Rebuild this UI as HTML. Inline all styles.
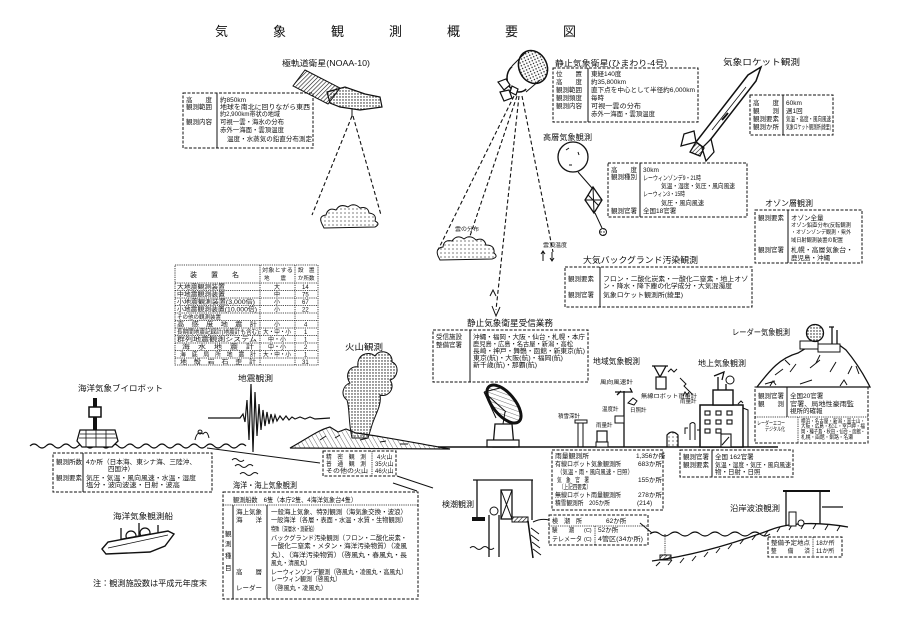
<!DOCTYPE html>
<html><head><meta charset="utf-8">
<style>
html,body{margin:0;padding:0;background:#fff;}
svg{display:block;}
text{font-family:"Liberation Sans","Noto Sans CJK JP",sans-serif;fill:#111;}
.db{fill:none;stroke:#111;stroke-width:1;stroke-dasharray:3 1.5;}
.dt{fill:none;stroke:#111;stroke-width:0.8;stroke-dasharray:1.2 1;}
.ln{fill:none;stroke:#111;stroke-width:1;}
.dl{fill:none;stroke:#111;stroke-width:1.1;stroke-dasharray:4 2.5;}
.s{font-size:6.5px;}
.xs{font-size:5.5px;}
.m{font-size:8px;}
</style></head>
<body>
<svg width="911" height="625" viewBox="0 0 911 625" xmlns="http://www.w3.org/2000/svg">
<defs>
<pattern id="dots" width="3" height="3" patternUnits="userSpaceOnUse"><circle cx="1" cy="1" r="0.7" fill="#111"/></pattern>
<pattern id="dots2" width="4" height="4" patternUnits="userSpaceOnUse"><circle cx="1" cy="1" r="0.6" fill="#222"/></pattern>
<pattern id="hatch" width="3" height="3" patternUnits="userSpaceOnUse" patternTransform="rotate(45)"><line x1="0" y1="0" x2="0" y2="3" stroke="#111" stroke-width="1.2"/></pattern>
<pattern id="hatch2" width="4" height="4" patternUnits="userSpaceOnUse" patternTransform="rotate(-30)"><line x1="0" y1="0" x2="0" y2="4" stroke="#333" stroke-width="0.7"/></pattern>
</defs>
<rect width="911" height="625" fill="#fff"/>

<!-- Title -->
<text x="215" y="36" style="font-size:13px;letter-spacing:45px">気象観測概要図</text>

<!-- ===== NOAA ===== -->
<text x="282" y="66" class="m" textLength="88" lengthAdjust="spacingAndGlyphs">極軌道衛星(NOAA-10)</text>
<polygon points="305,70 340,88 328,104 293,86" fill="url(#hatch)" stroke="#111" stroke-width="1"/>
<path d="M327 92 L345 87 L365 94 L380 97 L382 107 L360 110 L340 107 L330 103 Z" fill="url(#dots)" stroke="#111" stroke-width="1.2"/>
<line x1="352" y1="108" x2="352" y2="116" class="ln"/>
<rect x="183" y="93" width="130" height="55" class="db"/>
<line x1="217" y1="93" x2="217" y2="148" class="ln"/>
<g class="s">
<text x="186" y="102">高　　度</text><text x="186" y="109">観測範囲</text><text x="186" y="124">観測内容</text>
<text x="220" y="102">約850km</text>
<text x="220" y="109" textLength="90" lengthAdjust="spacingAndGlyphs">地球を南北に回りながら東西</text>
<text x="220" y="116" textLength="60" lengthAdjust="spacingAndGlyphs">約2,900km帯状の地域</text>
<text x="220" y="124" textLength="64" lengthAdjust="spacingAndGlyphs">可視一雲・海氷の分布</text>
<text x="220" y="132" textLength="64" lengthAdjust="spacingAndGlyphs">赤外一海面・雲頂温度</text>
<text x="227" y="141" textLength="85" lengthAdjust="spacingAndGlyphs">温度・水蒸気の鉛直分布測定</text>
</g>
<line x1="352" y1="116" x2="312" y2="215" class="dl"/>
<line x1="353" y1="116" x2="381" y2="215" class="dl"/>
<path d="M322 224 q-4 -8 4 -9 q2 -8 10 -5 q4 -7 12 -3 q6 -5 12 1 q8 -2 9 5 q8 1 6 8 q6 3 0 6 L324 228 Z" fill="url(#dots2)" stroke="#111" stroke-width="1"/>

<!-- ===== Himawari ===== -->
<text x="555" y="66" class="m" textLength="112" lengthAdjust="spacingAndGlyphs">静止気象衛星(ひまわり-4号)</text>
<ellipse cx="519" cy="78" rx="12" ry="14" fill="#fff" stroke="#111" stroke-width="1.5"/>
<polygon points="512,66 528,52 546,78 528,92" fill="#fff" stroke="none"/>
<line x1="512" y1="66" x2="526" y2="52" class="ln"/><line x1="526" y1="92" x2="540" y2="80" class="ln"/>
<ellipse cx="533" cy="67" rx="14" ry="17" transform="rotate(-25 533 67)" fill="url(#dots)" stroke="#111" stroke-width="1.5"/>
<path d="M498 82 l8 -3 l4 6 l-6 5 Z M500 92 l9 -2 l3 8 l-8 3 Z M512 86 l6 3 l-2 6 l-6 -3 Z" fill="#fff" stroke="#111" stroke-width="1.2"/>
<rect x="553" y="68" width="145" height="54" class="db"/>
<line x1="588" y1="68" x2="588" y2="122" class="ln"/>
<g class="s">
<text x="556" y="76">位　　置</text><text x="556" y="84">高　　度</text><text x="556" y="92">観測範囲</text><text x="556" y="100">観測頻度</text><text x="556" y="108">観測内容</text>
<text x="591" y="76">東経140度</text><text x="591" y="84">約35,800km</text>
<text x="591" y="92" textLength="104" lengthAdjust="spacingAndGlyphs">直下点を中心として半径約6,000km</text>
<text x="591" y="100">毎時</text>
<text x="591" y="108" textLength="50" lengthAdjust="spacingAndGlyphs">可視一雲の分布</text>
<text x="591" y="116" textLength="64" lengthAdjust="spacingAndGlyphs">赤外一海面・雲頂温度</text>
</g>
<line x1="514" y1="96" x2="438" y2="250" class="dl"/>
<line x1="517" y1="96" x2="470" y2="236" class="dl"/>
<line x1="519" y1="96" x2="496" y2="310" class="dl"/>
<line x1="522" y1="96" x2="553" y2="252" class="dl"/>
<path d="M492 306 l4 10 l4 -9" class="ln"/>
<path d="M490 296 l3 -6 l3 6" class="ln"/>
<path d="M438 256 q-3 -8 5 -9 q1 -8 9 -6 q5 -7 12 -2 q6 -5 12 1 q8 -3 10 5 q9 0 8 8 q5 4 -2 6 L440 260 Z" fill="url(#dots2)" stroke="#111" stroke-width="1"/>
<text x="455" y="231" class="xs" textLength="24" lengthAdjust="spacingAndGlyphs">雲の分布</text>
<text x="543" y="247" class="xs" textLength="24" lengthAdjust="spacingAndGlyphs">雲頂温度</text>
<path d="M543 252 v9 M541 254 l2 -3 l2 3 M552 252 v9 M550 258 l2 3 l2 -3" class="ln"/>

<!-- ===== Rocket ===== -->
<text x="723" y="65" style="font-size:8.5px" textLength="77" lengthAdjust="spacingAndGlyphs">気象ロケット観測</text>
<polygon points="704,148 756,81 761,67 748,75 696,142" fill="#fff" stroke="#111" stroke-width="1.5"/>
<line x1="712" y1="130" x2="746" y2="87" stroke="#111" stroke-width="0.8"/>
<line x1="722" y1="120" x2="728" y2="113" stroke="#111" stroke-width="2"/>
<polygon points="711,139 714,152 706,161 702,148" fill="#fff" stroke="#111" stroke-width="1.3"/>
<polygon points="694,131 684,134 681,146 696,142" fill="#fff" stroke="#111" stroke-width="1.3"/>
<polygon points="696,142 704,148 700,156 690,152" fill="url(#hatch)" stroke="#111" stroke-width="1.3"/>
<rect x="750" y="95" width="83" height="40" class="db"/>
<line x1="783" y1="95" x2="783" y2="135" class="ln"/>
<g class="s">
<text x="753" y="105">高　　度</text><text x="753" y="113">観　　測</text><text x="753" y="121">観測要素</text><text x="753" y="129">観測か所</text>
<text x="786" y="105">60km</text><text x="786" y="113">週1回</text>
<text x="786" y="121" textLength="45" lengthAdjust="spacingAndGlyphs">気温・高度・風向風速</text>
<text x="786" y="129" textLength="45" lengthAdjust="spacingAndGlyphs">気象ロケット観測所(綾里)</text>
</g>

<!-- ===== Upper air ===== -->
<text x="543" y="140" class="m" textLength="49" lengthAdjust="spacingAndGlyphs">高層気象観測</text>
<circle cx="573" cy="157" r="15" fill="#fff" stroke="#111" stroke-width="1.3"/>
<path d="M566 150 l3 -2 M578 152 l1 3 M569 165 l3 0" class="ln"/>
<line x1="578" y1="172" x2="592" y2="188" class="ln"/>
<polygon points="593,187 602,200 594,213 585,200" fill="#fff" stroke="#111" stroke-width="1.3"/>
<path d="M585 200 L602 200 M593 187 L594 213 M588 195 L599 206" class="ln"/>
<line x1="595" y1="213" x2="602" y2="228" class="ln"/>
<circle cx="603" cy="232" r="3.5" fill="url(#dots)" stroke="#111"/>
<rect x="608" y="163" width="139" height="54" class="db"/>
<line x1="640" y1="163" x2="640" y2="217" class="ln"/>
<g class="s">
<text x="611" y="172">高　　度</text><text x="611" y="179">観測種別</text><text x="611" y="213">観測官署</text>
<text x="643" y="172">30km</text>
<text x="643" y="180" textLength="58" lengthAdjust="spacingAndGlyphs">レーウィンゾンデ9・21時</text>
<text x="661" y="188" textLength="74" lengthAdjust="spacingAndGlyphs">気温・湿度・気圧・風向風速</text>
<text x="643" y="196" textLength="42" lengthAdjust="spacingAndGlyphs">レーウィン3・15時</text>
<text x="661" y="205" textLength="43" lengthAdjust="spacingAndGlyphs">気圧・風向風速</text>
<text x="643" y="213">全国18官署</text>
</g>

<!-- ===== Ozone ===== -->
<text x="765" y="206" class="m" textLength="48" lengthAdjust="spacingAndGlyphs">オゾン層観測</text>
<rect x="755" y="210" width="107" height="53" class="db"/>
<line x1="788" y1="210" x2="788" y2="263" class="ln"/>
<g class="s">
<text x="758" y="220">観測要素</text><text x="758" y="252">観測官署</text>
<text x="791" y="220">オゾン全量</text>
<text x="791" y="227" class="xs" textLength="60" lengthAdjust="spacingAndGlyphs">オゾン鉛直分布(反転観測</text>
<text x="791" y="234" class="xs" textLength="60" lengthAdjust="spacingAndGlyphs">・オゾンゾンデ観測・紫外</text>
<text x="791" y="242" class="xs" textLength="52" lengthAdjust="spacingAndGlyphs">域日射観測装置の配置</text>
<text x="791" y="252" textLength="62" lengthAdjust="spacingAndGlyphs">札幌・高層気象台・</text>
<text x="791" y="260">鹿児島・沖縄</text>
</g>

<!-- ===== Background pollution ===== -->
<text x="583" y="263" style="font-size:8.5px" textLength="115" lengthAdjust="spacingAndGlyphs">大気バックグランド汚染観測</text>
<rect x="565" y="267" width="187" height="40" class="db"/>
<line x1="600" y1="267" x2="600" y2="307" class="ln"/>
<g class="s">
<text x="568" y="281">観測要素</text><text x="568" y="297">観測官署</text>
<text x="603" y="281" textLength="145" lengthAdjust="spacingAndGlyphs">フロン・二酸化炭素・一酸化二窒素・地上オゾ</text>
<text x="603" y="288" textLength="129" lengthAdjust="spacingAndGlyphs">ン・降水・降下塵の化学成分・大気混濁度</text>
<text x="603" y="297" textLength="80" lengthAdjust="spacingAndGlyphs">気象ロケット観測所(綾里)</text>
</g>

<!-- ===== Seismic equipment table ===== -->
<rect x="175" y="265" width="143" height="100" class="dt"/>
<line x1="260" y1="265" x2="260" y2="365" class="dt"/>
<line x1="295" y1="265" x2="295" y2="365" class="dt"/>
<g class="dt">
<line x1="175" y1="283" x2="318" y2="283"/><line x1="175" y1="290.5" x2="318" y2="290.5"/><line x1="175" y1="298" x2="318" y2="298"/><line x1="175" y1="305.5" x2="318" y2="305.5"/><line x1="175" y1="313" x2="318" y2="313"/><line x1="175" y1="320.5" x2="318" y2="320.5"/><line x1="175" y1="328" x2="318" y2="328"/><line x1="175" y1="335.5" x2="318" y2="335.5"/><line x1="175" y1="343" x2="318" y2="343"/><line x1="175" y1="350.5" x2="318" y2="350.5"/><line x1="175" y1="358" x2="318" y2="358"/>
</g>
<g style="font-size:6px">
<text x="190" y="277" style="font-size:7px">装　　置　　名</text>
<text x="262" y="272" class="xs" textLength="31" lengthAdjust="spacingAndGlyphs">対象とする</text><text x="264" y="280" class="xs">地　　震</text>
<text x="298" y="272" class="xs">設　置</text><text x="298" y="280" class="xs">か所数</text>
<text x="177" y="289" textLength="48" lengthAdjust="spacingAndGlyphs">大地震観測装置</text><text x="274" y="289">大</text><text x="302" y="289">14</text>
<text x="177" y="296.5" textLength="48" lengthAdjust="spacingAndGlyphs">中地震観測装置</text><text x="274" y="296.5">中</text><text x="302" y="296.5">75</text>
<text x="177" y="304" textLength="78" lengthAdjust="spacingAndGlyphs">小地震観測装置(3,000倍)</text><text x="274" y="304">小</text><text x="302" y="304">67</text>
<text x="177" y="311.5" textLength="80" lengthAdjust="spacingAndGlyphs">小地震観測装置(10,000倍)</text><text x="274" y="311.5">小</text><text x="302" y="311.5">22</text>
<text x="177" y="319" class="xs" textLength="44" lengthAdjust="spacingAndGlyphs">その他の観測装置</text>
<text x="177" y="326.5" textLength="80" lengthAdjust="spacingAndGlyphs">高　感　度　地　震　計</text><text x="274" y="326.5">小</text><text x="304" y="326.5">4</text>
<text x="177" y="334" textLength="82" lengthAdjust="spacingAndGlyphs">長期間地震記録計(地震計も含む)</text><text x="263" y="334" textLength="28" lengthAdjust="spacingAndGlyphs">大・中・小</text><text x="304" y="334">1</text>
<text x="177" y="341.5" textLength="80" lengthAdjust="spacingAndGlyphs">群列地震観測システム</text><text x="268" y="341.5">中・小</text><text x="304" y="341.5">1</text>
<text x="182" y="349" textLength="72" lengthAdjust="spacingAndGlyphs">海　水　地　震　計</text><text x="268" y="349">中・小</text><text x="304" y="349">2</text>
<text x="180" y="356.5" textLength="76" lengthAdjust="spacingAndGlyphs">海　底　局　所　地　震　計</text><text x="263" y="356.5" textLength="28" lengthAdjust="spacingAndGlyphs">大・中・小</text><text x="304" y="356.5">1</text>
<text x="180" y="364" textLength="76" lengthAdjust="spacingAndGlyphs">地　殻　岩　石　歪　計</text><text x="302" y="364">31</text>
</g>

<!-- ===== Seismic & volcano ===== -->
<text x="238" y="381" class="m" textLength="35" lengthAdjust="spacingAndGlyphs">地震観測</text>
<path d="M208 418 L240 418 L243 414 L245 422 L247 400 L249 440 L251 384 L253 452 L255 392 L257 436 L259 404 L261 430 L263 410 L265 426 L267 412 L269 424 L271 414 L273 422 L275 415 L277 421 L280 416 L283 420 L286 416 L289 420 L292 417 L295 419 L300 417 L305 419 L310 417 L315 419 L330 418" fill="none" stroke="#111" stroke-width="1.2"/>
<text x="345" y="350" style="font-size:8.5px" textLength="38" lengthAdjust="spacingAndGlyphs">火山観測</text>
<path d="M352 438 C348 420 350 410 347 400 C340 395 343 385 350 383 C344 375 350 365 358 367 C356 355 368 350 375 356 C380 348 393 352 392 362 C400 365 398 378 390 380 C396 388 388 398 380 395 C382 405 375 415 372 425 L368 438 Z" fill="url(#dots)" stroke="#111" stroke-width="1"/>
<path d="M290 448 C305 440 318 430 330 427 L338 432 L346 429 L356 433 C380 436 410 442 450 449 Z" fill="url(#hatch2)" stroke="#111" stroke-width="1.2"/>
<path d="M320 440 l6 -4 M335 438 l5 -3 M360 440 l8 -2 M380 442 l6 -1 M400 444 l8 0" class="ln"/>
<rect x="323" y="451" width="73" height="25" class="db"/>
<line x1="372" y1="451" x2="372" y2="476" class="dt"/>
<g style="font-size:6px">
<text x="326" y="459" textLength="40" lengthAdjust="spacingAndGlyphs">精　密　観　測</text><text x="326" y="466" textLength="40" lengthAdjust="spacingAndGlyphs">普　通　観　測</text><text x="326" y="473" textLength="42" lengthAdjust="spacingAndGlyphs">その他の火山</text>
<text x="377" y="459">4火山</text><text x="375" y="466">35火山</text><text x="375" y="473">46火山</text>
</g>

<!-- ===== Left sea ===== -->
<path d="M30 446 q4 -4 8 0 t8 0 t8 0 t8 0 t8 0 t8 0 t8 0 t8 0 t8 0 t8 0 t8 0 t8 0 t8 0 t8 0 t8 0 t8 0 t8 0 t8 0 t8 0 t8 0 t8 0 t8 0 t8 0 t8 0 t8 0 t8 0 t8 0" fill="none" stroke="#111" stroke-width="1.2"/>
<path d="M207 448 L320 463 M397 476 L433 488 M393 483 L417 491" class="ln"/>
<path d="M235 466 q3 -3 6 0 t6 0 t6 0 M240 474 q3 -3 6 0 t6 0 t6 0 M232 460 q3 -3 6 0 t6 0" class="ln"/>
<path d="M195 440 q2 -10 8 -6 q4 -5 6 4 M200 430 a2 2 0 1 0 0.1 0" class="ln"/>
<!-- buoy -->
<text x="78" y="391" class="m" textLength="85" lengthAdjust="spacingAndGlyphs">海洋気象ブイロボット</text>
<rect x="93" y="398" width="4" height="32" fill="#111"/>
<rect x="89" y="407" width="12" height="10" fill="#fff" stroke="#111" stroke-width="1.5"/>
<path d="M77 441 L80 430 L115 430 L118 441 L112 447 L82 447 Z" fill="#fff" stroke="#111" stroke-width="1.3"/>
<path d="M80 434 H115 M79 438 H117 M86 430 V447 M96 430 V447 M106 430 V447" stroke="#111" stroke-width="0.8"/>
<rect x="53" y="453" width="159" height="39" class="db"/>
<line x1="83" y1="453" x2="83" y2="492" class="ln"/>
<g class="s">
<text x="56" y="464">観測所数</text><text x="56" y="480">観測要素</text>
<text x="86" y="464" textLength="110" lengthAdjust="spacingAndGlyphs">4か所（日本海、東シナ海、三陸沖、</text>
<text x="108" y="471">四国沖）</text>
<text x="86" y="480" textLength="110" lengthAdjust="spacingAndGlyphs">気圧・気温・風向風速・水温・湿度</text>
<text x="86" y="487" textLength="94" lengthAdjust="spacingAndGlyphs">塩分・波向波速・日射・波高</text>
</g>
<!-- ship -->
<text x="113" y="519" class="m" textLength="60" lengthAdjust="spacingAndGlyphs">海洋気象観測船</text>
<path d="M139 523 V537 M158 525 V535 M121 528 V540" stroke="#111" stroke-width="1.3"/>
<circle cx="131" cy="536" r="5" fill="#fff" stroke="#111" stroke-width="1.2"/>
<circle cx="145" cy="533" r="5" fill="#fff" stroke="#111" stroke-width="1.2"/>
<path d="M118 546 L122 539 L150 534 L160 536 L160 542 Z" fill="#fff" stroke="#111" stroke-width="1.2"/>
<path d="M102 549 L108 542 L168 531 L174 534 L165 546 L150 552 L106 554 Z" fill="#fff" stroke="#111" stroke-width="1.4"/>
<path d="M108 548 L168 535" stroke="#111" stroke-width="0.8"/>
<text x="93" y="586" class="m" textLength="114" lengthAdjust="spacingAndGlyphs">注：観測施設数は平成元年度末</text>

<!-- ===== Marine box ===== -->
<text x="233" y="488" class="m" textLength="64" lengthAdjust="spacingAndGlyphs">海洋・海上気象観測</text>
<rect x="223" y="492" width="195" height="107" class="db"/>
<line x1="223" y1="505" x2="418" y2="505" class="dt"/>
<line x1="233" y1="505" x2="233" y2="599" class="ln"/>
<line x1="267" y1="505" x2="267" y2="599" class="ln"/>
<g class="s">
<text x="233" y="502" textLength="124" lengthAdjust="spacingAndGlyphs">観測船数　6隻（本庁2隻、4海洋気象台4隻）</text>
<text x="225" y="536">観</text><text x="225" y="546">測</text><text x="225" y="558">種</text><text x="225" y="570">目</text>
<text x="236" y="514" textLength="26" lengthAdjust="spacingAndGlyphs">海上気象</text>
<text x="236" y="522">海　　洋</text>
<text x="236" y="574">高　　層</text>
<text x="236" y="590">レーダー</text>
<text x="271" y="514" textLength="136" lengthAdjust="spacingAndGlyphs">一般海上気象、特別観測（海気象交換・波浪）</text>
<text x="271" y="522" textLength="136" lengthAdjust="spacingAndGlyphs">一般海洋（各層・表面・水温・水質・生物観測）</text>
<text x="271" y="531" textLength="46" lengthAdjust="spacingAndGlyphs">特殊（深層水・測新船）</text>
<text x="271" y="540" textLength="136" lengthAdjust="spacingAndGlyphs">バックグランド汚染観測（フロン・二酸化炭素・</text>
<text x="271" y="548" textLength="136" lengthAdjust="spacingAndGlyphs">一酸化二窒素・メタン・海洋汚染物質）（凌風</text>
<text x="271" y="557" textLength="136" lengthAdjust="spacingAndGlyphs">丸）、（海洋汚染物質）（啓風丸・春風丸・長</text>
<text x="271" y="565" textLength="40" lengthAdjust="spacingAndGlyphs">風丸・清風丸）</text>
<text x="271" y="574" textLength="136" lengthAdjust="spacingAndGlyphs">レーウィンゾンデ観測（啓風丸・凌風丸・高風丸）</text>
<text x="271" y="581" textLength="70" lengthAdjust="spacingAndGlyphs">レーウィン観測（啓風丸）</text>
<text x="271" y="590" textLength="56" lengthAdjust="spacingAndGlyphs">（啓風丸・凌風丸）</text>
</g>

<!-- ===== Receiver ===== -->
<text x="467" y="326" style="font-size:8.5px" textLength="86" lengthAdjust="spacingAndGlyphs">静止気象衛星受信業務</text>
<rect x="433" y="330" width="155" height="52" class="db"/>
<line x1="470" y1="330" x2="470" y2="382" class="ln"/>
<g class="s">
<text x="436" y="339">受信施設</text><text x="436" y="347">整備官署</text>
<text x="473" y="339" textLength="112" lengthAdjust="spacingAndGlyphs">沖縄・福岡・大阪・仙台・札幌・本庁</text>
<text x="473" y="346" textLength="100" lengthAdjust="spacingAndGlyphs">鹿児島・広島・名古屋・新潟・高松</text>
<text x="473" y="353" textLength="112" lengthAdjust="spacingAndGlyphs">長崎・神戸・舞鶴・函館・新東京(航)</text>
<text x="473" y="360" textLength="90" lengthAdjust="spacingAndGlyphs">東京(航)・大阪(航)・福岡(航)</text>
<text x="473" y="367" textLength="64" lengthAdjust="spacingAndGlyphs">新千歳(航)・那覇(航)</text>
</g>
<!-- dish -->
<path d="M493 447 L495 424 L512 424 L514 447 Z" fill="#fff" stroke="#111" stroke-width="1.3"/>
<rect x="487" y="440" width="32" height="7" fill="#fff" stroke="#111" stroke-width="1.2"/>
<ellipse cx="504" cy="404" rx="11" ry="23" transform="rotate(-40 504 404)" fill="url(#hatch2)" stroke="#111" stroke-width="3"/>
<path d="M484 392 L506 412 M484 392 L500 388 M484 392 L496 418 M505 412 L503 424" class="ln"/>

<!-- ground right -->
<line x1="438" y1="447" x2="778" y2="447" stroke="#111" stroke-width="1.5"/>

<!-- regional -->
<text x="593" y="364" class="m" textLength="47" lengthAdjust="spacingAndGlyphs">地域気象観測</text>
<text x="600" y="384" class="xs" textLength="33" lengthAdjust="spacingAndGlyphs">風向風速計</text>
<path d="M624 391 V447 M615 392 L632 392 L630 388 M617 395 l4 -4" stroke="#111" stroke-width="1.3" fill="none"/>
<path d="M628 403 l5 -5 l4 3 l-3 4 Z" fill="#fff" stroke="#111"/>
<text x="602" y="411" class="xs">温度計</text><text x="630" y="412" class="xs">日照計</text>
<rect x="615" y="416" width="9" height="7" fill="#fff" stroke="#111"/>
<text x="558" y="418" class="xs" textLength="22" lengthAdjust="spacingAndGlyphs">積雪深計</text>
<rect x="575" y="420" width="12" height="3" fill="#fff" stroke="#111"/>
<path d="M578 423 V447 M583 423 V447" class="ln"/>
<text x="596" y="427" class="xs">雨量計</text>
<rect x="597" y="431" width="10" height="11" fill="#fff" stroke="#111" stroke-width="1.2"/>
<path d="M596 442 h12 v5 h-12 Z" fill="#fff" stroke="#111"/>
<path d="M667 447 v-12 q5 -6 11 0 v12" fill="url(#dots2)" stroke="#111" stroke-width="1.2"/>
<text x="641" y="398" class="xs" textLength="56" lengthAdjust="spacingAndGlyphs">無線ロボット雨量計</text>
<path d="M652 366 H668 M654 366 L660 377 L666 366" stroke="#111" stroke-width="1.3" fill="none"/>
<rect x="656" y="377" width="10" height="12" fill="#fff" stroke="#111" stroke-width="1.2"/>
<path d="M668 372 l3 -3 l3 3 l3 -3 M680 378 l6 6 l-2 2 l8 8" class="ln"/>
<path d="M690 440 v-16 q3 -3 5 0 v16 M688 428 h-3 v6 M697 430 h3 v-5" class="ln"/>

<!-- surface building -->
<text x="698" y="366" class="m" textLength="48" lengthAdjust="spacingAndGlyphs">地上気象観測</text>
<text x="680" y="403" class="xs">雨量計</text>
<path d="M683 396 l2 -4 l2 3 l2 -3" class="ln"/>
<rect x="700" y="405" width="43" height="42" fill="#fff" stroke="#111" stroke-width="1.5"/>
<path d="M743 408 L748 410 L748 447" class="ln"/>
<g fill="#fff" stroke="#111" stroke-width="1.1">
<rect x="705" y="411" width="5" height="4"/><rect x="716" y="411" width="5" height="4"/><rect x="727" y="411" width="5" height="4"/>
<rect x="705" y="420" width="5" height="4"/><rect x="716" y="420" width="5" height="4"/><rect x="727" y="420" width="5" height="4"/>
<rect x="705" y="429" width="5" height="4"/><rect x="716" y="429" width="5" height="4"/>
<rect x="721" y="434" width="10" height="13"/>
</g>
<line x1="722" y1="445" x2="729" y2="437" class="ln"/>
<rect x="713" y="390" width="20" height="15" fill="#fff" stroke="#111" stroke-width="1.4"/>
<path d="M718 390 V377 M714 376 L724 372 L722 380 M726 390 V384" stroke="#111" stroke-width="1.3" fill="none"/>
<circle cx="730" cy="380" r="4" fill="#fff" stroke="#111"/>
<path d="M738 404 l3 -3 l2 2" class="ln"/>
<rect x="680" y="450" width="113" height="27" class="db"/>
<line x1="712" y1="450" x2="712" y2="477" class="ln"/>
<g class="s">
<text x="683" y="459">観測官署</text><text x="683" y="467">観測要素</text>
<text x="715" y="459">全国 162官署</text>
<text x="715" y="467" textLength="76" lengthAdjust="spacingAndGlyphs">気温・湿度・気圧・風向風速</text>
<text x="715" y="474">物・日射・日照</text>
</g>

<!-- radar -->
<text x="732" y="335" class="m" textLength="58" lengthAdjust="spacingAndGlyphs">レーダー気象観測</text>
<path d="M757 387 C770 370 780 358 798 353 L808 347 L838 344 L846 350 C856 362 864 375 870 387 Z" fill="#fff" stroke="#111" stroke-width="1.3"/>
<path d="M775 375 l8 -6 M790 372 l6 -8 M810 368 l10 -8 M830 372 l6 -10 M848 374 l4 -8 M765 384 l10 -3 M800 384 l12 -4 M785 360 l5 5 M820 355 l-4 8 M856 366 l3 8 M770 386 l3 -5 l3 4 M840 386 l4 -6 l3 5" class="ln"/>
<rect x="800" y="341" width="18" height="8" fill="#fff" stroke="#111"/>
<rect x="818" y="344" width="22" height="8" fill="#fff" stroke="#111"/>
<path d="M832 344 V327 M837 344 V330 M829 327 h5" stroke="#111" stroke-width="1.3"/>
<circle cx="815" cy="333" r="8.5" fill="url(#dots)" stroke="#111" stroke-width="1.3"/>
<rect x="755" y="387" width="113" height="56" class="db"/>
<line x1="755" y1="417" x2="868" y2="417" class="dt"/>
<line x1="787" y1="387" x2="787" y2="417" class="ln"/>
<line x1="798" y1="417" x2="798" y2="443" class="dt"/>
<g class="s">
<text x="758" y="398">観測官署</text><text x="758" y="406">観　　測</text>
<text x="790" y="398">全国20官署</text>
<text x="790" y="406" textLength="64" lengthAdjust="spacingAndGlyphs">官署、局地性豪雨監</text>
<text x="790" y="413">視所的確報</text>
<text x="757" y="425" class="xs" textLength="28" lengthAdjust="spacingAndGlyphs">レーダーエコー</text>
<text x="765" y="431" class="xs" textLength="20" lengthAdjust="spacingAndGlyphs">デジタル化</text>
<text x="801" y="423" class="xs" textLength="64" lengthAdjust="spacingAndGlyphs">横浜・名古屋・新潟・富士山・</text>
<text x="801" y="428" class="xs" textLength="64" lengthAdjust="spacingAndGlyphs">大阪・広島・松江・室戸岬・福</text>
<text x="801" y="433.5" class="xs" textLength="64" lengthAdjust="spacingAndGlyphs">岡・種子島・秋田・仙台・函館・</text>
<text x="801" y="439" class="xs" textLength="52" lengthAdjust="spacingAndGlyphs">札幌・函館・釧路・名瀬</text>
</g>

<!-- regional box -->
<rect x="552" y="450" width="111" height="60" class="db"/>
<g class="s">
<text x="555" y="458" textLength="34" lengthAdjust="spacingAndGlyphs">雨量観測所</text><text x="636" y="458">1,356か所</text>
<text x="555" y="466" textLength="66" lengthAdjust="spacingAndGlyphs">有線ロボット気象観測所</text><text x="638" y="466">683か所</text>
<text x="557" y="474" textLength="76" lengthAdjust="spacingAndGlyphs">（気温・雨・風向風速・日照）</text>
<text x="557" y="482" textLength="32" lengthAdjust="spacingAndGlyphs">気　象　官　署</text><text x="638" y="482">155か所</text>
<text x="559" y="489" textLength="32" lengthAdjust="spacingAndGlyphs">（上記四要素）</text>
<text x="555" y="497" textLength="66" lengthAdjust="spacingAndGlyphs">無線ロボット雨量観測所</text><text x="638" y="497">278か所</text>
<text x="555" y="505" textLength="55" lengthAdjust="spacingAndGlyphs">積雪観測所　205か所</text><text x="637" y="505">(214)</text>
</g>

<!-- ===== Tide ===== -->
<text x="442" y="507" class="m" textLength="32" lengthAdjust="spacingAndGlyphs">検潮観測</text>
<path d="M473 480 H533 M477 480 V520 M532 480 V520" stroke="#111" stroke-width="1.3" fill="none"/>
<rect x="472" y="517" width="13" height="4" fill="#111"/>
<circle cx="494" cy="511" r="4" fill="#fff" stroke="#111"/>
<path d="M489 515 V557 M499 515 V557" stroke="#111" stroke-width="1.3"/>
<rect x="501" y="490" width="11" height="29" fill="#fff" stroke="#111" stroke-width="1.3"/>
<path d="M501 490 L512 519 M512 490 L501 519" class="ln"/>
<rect x="512" y="517" width="16" height="5" fill="url(#hatch)" stroke="#111"/>
<path d="M528 521 L533 558" stroke="#111" stroke-width="1.5"/>
<path d="M531 528 l8 6 M531 535 l8 6 M532 542 l8 6 M533 549 l8 6 M533 522 q8 -4 16 -2" class="ln"/>
<path d="M470 548 q3 -3 6 0 t6 0 t6 0 t6 0" class="ln"/>
<rect x="549" y="515" width="99" height="30" class="db"/>
<line x1="549" y1="526" x2="648" y2="526" class="dt"/>
<line x1="595" y1="526" x2="595" y2="545" class="dt"/>
<g class="s">
<text x="552" y="523" textLength="30" lengthAdjust="spacingAndGlyphs">検　潮　所</text><text x="606" y="523">62か所</text>
<text x="552" y="532" textLength="22" lengthAdjust="spacingAndGlyphs">験　　潮</text><text x="584" y="532" class="xs">(C)</text><text x="598" y="532">52か所</text>
<text x="552" y="541" textLength="30" lengthAdjust="spacingAndGlyphs">テレメータ</text><text x="584" y="541" class="xs">(C)</text><text x="598" y="541" textLength="45" lengthAdjust="spacingAndGlyphs">4管区(34か所)</text>
</g>

<!-- ===== Coastal wave ===== -->
<path d="M640 523 L652 533" class="ln"/>
<path d="M650 534 q5 -4 10 0 t10 0 t10 0 t10 0 t10 0 t10 0 t10 0 t10 0 t10 0 t10 0 t10 0 t10 0" fill="none" stroke="#111" stroke-width="1.1"/>
<path d="M652 561 C690 556 730 545 770 530 C790 522 820 522 848 527" fill="none" stroke="#111" stroke-width="1.3"/>
<path d="M660 562 l-4 4 M672 560 l-4 5 M684 558 l-4 5 M696 556 l-4 5 M708 552 l-4 5 M720 548 l-4 5 M732 544 l-4 5 M744 539 l-4 5 M756 535 l-4 5 M768 531 l-4 5 M780 527 l-3 5 M792 525 l-3 5 M804 524 l-3 5 M816 524 l-3 5 M828 525 l-3 5 M840 526 l-3 5" class="ln"/>
<line x1="665" y1="534" x2="665" y2="556" class="dt"/>
<rect x="660" y="555" width="11" height="5" fill="url(#hatch)" stroke="#111"/>
<text x="730" y="511" class="m" textLength="50" lengthAdjust="spacingAndGlyphs">沿岸波浪観測</text>
<path d="M783 491 H830" stroke="#111" stroke-width="2"/>
<path d="M786 491 V526 M820 491 V524" stroke="#111" stroke-width="1.3"/>
<rect x="789" y="512" width="7" height="14" fill="#fff" stroke="#111"/>
<circle cx="801" cy="523" r="3" fill="#fff" stroke="#111"/>
<line x1="822" y1="507" x2="843" y2="507" stroke="#111" stroke-width="1.3"/>
<rect x="768" y="537" width="74" height="20" class="db"/>
<line x1="813" y1="537" x2="813" y2="557" class="dt"/>
<g style="font-size:6px">
<text x="771" y="545" textLength="39" lengthAdjust="spacingAndGlyphs">整備予定地点</text><text x="816" y="545">18か所</text>
<text x="771" y="553" textLength="39" lengthAdjust="spacingAndGlyphs">整　　備　　済</text><text x="816" y="553">11か所</text>
</g>
</svg>
</body></html>
